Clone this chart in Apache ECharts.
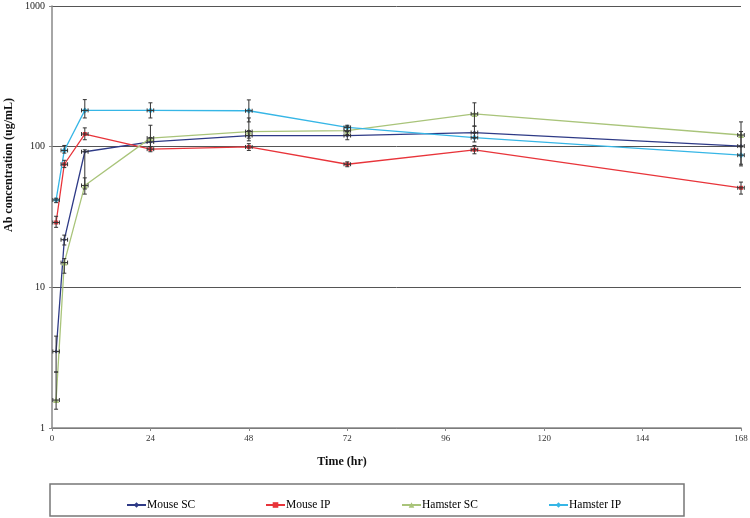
<!DOCTYPE html>
<html>
<head>
<meta charset="utf-8">
<script src="https://cdn.jsdelivr.net/npm/echarts@6/dist/echarts.min.js"></script>
<style>html,body{margin:0;padding:0;background:#fff}#c{width:750px;height:518px}</style>
</head>
<body>
<div id="c"></div>
<script>
const times = [1, 3, 8, 24, 48, 72, 103, 168];
const xTicks = [0, 24, 48, 72, 96, 120, 144, 168];
const yTicks = [1, 10, 100, 1000];
const seriesNames = ['Mouse SC', 'Mouse IP', 'Hamster SC', 'Hamster IP'];
const xTitle = 'Time (hr)';
const yTitle = 'Ab concentration (ug/mL)';

const mouseSC = [3.5, 21.8, 92, 108, 120, 120, 126, 101];
const mouseSCLow = [2.5, 20, 50, 100, 110, 112, 115, 73];
const mouseSCHigh = [4.5, 23.5, 95, 116, 130, 128, 140, 128];

const mouseIP = [28.9, 75, 123, 96, 99.5, 75, 95, 51];
const mouseIPLow = [26.7, 71, 112, 92, 94, 72, 89, 46];
const mouseIPHigh = [32, 80, 136, 100, 105, 78, 102, 56];

const hamsterSC = [1.58, 15, 53, 115, 128, 130, 171, 121];
const hamsterSCLow = [1.36, 12.6, 46, 100, 115, 122, 140, 100];
const hamsterSCHigh = [2.5, 16, 60, 142, 160, 140, 205, 150];

const hamsterIP = [41.8, 94, 181, 181, 180, 137, 116, 87];
const hamsterIPLow = [40, 90, 160, 160, 150, 128, 108, 75];
const hamsterIPHigh = [43, 102, 216, 205, 215, 142, 125, 100];

const timeErr = [0.8, 0.8, 0.8, 0.8, 0.8, 0.8, 0.8, 0.8];

const colors = ['#2e3a86', '#e8343a', '#a9c47a', '#36b6e6'];
const symbols = ['diamond', 'rect', 'triangle', 'diamond'];
const symSizes = [4, 4, 6, 6];
const vals = [mouseSC, mouseIP, hamsterSC, hamsterIP];
const lows = [mouseSCLow, mouseIPLow, hamsterSCLow, hamsterIPLow];
const highs = [mouseSCHigh, mouseIPHigh, hamsterSCHigh, hamsterIPHigh];

const FONT = '"Liberation Serif", "Times New Roman", serif';

function errRender(params, api) {
  const t = api.value(0), v = api.value(1), lo = api.value(2), hi = api.value(3), xe = api.value(4);
  const pLo = api.coord([t, lo]);
  const pHi = api.coord([t, hi]);
  const pL = api.coord([t - xe, v]);
  const pR = api.coord([t + xe, v]);
  const pC = api.coord([t, v]);
  const c = 2;
  const st = { stroke: '#333', lineWidth: 1 };
  return {
    type: 'group',
    children: [
      { type: 'line', shape: { x1: pLo[0], y1: pLo[1], x2: pHi[0], y2: pHi[1] }, style: st },
      { type: 'line', shape: { x1: pLo[0] - c, y1: pLo[1], x2: pLo[0] + c, y2: pLo[1] }, style: st },
      { type: 'line', shape: { x1: pHi[0] - c, y1: pHi[1], x2: pHi[0] + c, y2: pHi[1] }, style: st },
      { type: 'line', shape: { x1: pL[0], y1: pC[1], x2: pR[0], y2: pC[1] }, style: st },
      { type: 'line', shape: { x1: pL[0], y1: pC[1] - c, x2: pL[0], y2: pC[1] + c }, style: st },
      { type: 'line', shape: { x1: pR[0], y1: pC[1] - c, x2: pR[0], y2: pC[1] + c }, style: st }
    ]
  };
}

const series = [];
seriesNames.forEach((name, i) => {
  series.push({
    name: name,
    type: 'line',
    data: times.map((t, j) => [t, vals[i][j]]),
    symbol: symbols[i],
    symbolSize: symSizes[i],
    showSymbol: true,
    color: colors[i],
    lineStyle: { width: 1.3, color: colors[i] },
    itemStyle: { color: colors[i] },
    z: 3,
    animation: false
  });
});
seriesNames.forEach((name, i) => {
  series.push({
    type: 'custom',
    renderItem: errRender,
    data: times.map((t, j) => [t, vals[i][j], lows[i][j], highs[i][j], timeErr[j]]),
    encode: { x: 0, y: 1 },
    z: 4,
    silent: true,
    clip: false,
    animation: false
  });
});

const legendLefts = [121, 260, 396, 543];
const legends = seriesNames.map((n, i) => ({
  data: [n],
  left: legendLefts[i],
  top: 494,
  itemWidth: 19,
  itemHeight: 7,
  selectedMode: false,
  textStyle: { fontFamily: FONT, fontSize: 11.5, color: '#000', padding: [0, 0, 0, -4] }
}));

const chart = echarts.init(document.getElementById('c'), null, { renderer: 'canvas' });
chart.setOption({
  animation: false,
  backgroundColor: '#fff',
  grid: { left: 52, right: 9, top: 6, bottom: 90, containLabel: false, outerBoundsMode: 'none' },
  xAxis: {
    type: 'value',
    min: xTicks[0],
    max: xTicks[xTicks.length - 1],
    interval: 24,
    axisLine: { lineStyle: { color: '#888', width: 1.5 } },
    axisTick: { show: true, length: 3, lineStyle: { color: '#888' } },
    axisLabel: { fontFamily: FONT, fontSize: 9, color: '#333', margin: 6, showMaxLabel: true },
    splitLine: { show: false }
  },
  yAxis: {
    type: 'log',
    logBase: 10,
    min: yTicks[0],
    max: yTicks[yTicks.length - 1],
    axisLine: { show: true, lineStyle: { color: '#888', width: 1.5 } },
    axisTick: { show: true, length: 3, lineStyle: { color: '#888' } },
    axisLabel: { fontFamily: FONT, fontSize: 10, color: '#222', margin: 7, formatter: v => String(Math.round(v)) },
    splitLine: { show: true, lineStyle: { color: '#555', width: 1 } },
    minorTick: { show: false },
    minorSplitLine: { show: false }
  },
  legend: legends,
  graphic: [{
    type: 'rect',
    shape: { x: 50, y: 484, width: 634, height: 32 },
    style: { fill: 'none', stroke: '#777', lineWidth: 1.5 },
    silent: true
  }, {
    type: 'text',
    x: 342, y: 462,
    style: { text: xTitle, font: 'bold 12px ' + FONT, fill: '#111', align: 'center', verticalAlign: 'middle' },
    silent: true
  }, {
    type: 'text',
    x: 9, y: 165,
    rotation: Math.PI / 2,
    style: { text: yTitle, font: 'bold 12px ' + FONT, fill: '#111', align: 'center', verticalAlign: 'middle' },
    silent: true
  }],
  series: series
});
</script>
</body>
</html>
